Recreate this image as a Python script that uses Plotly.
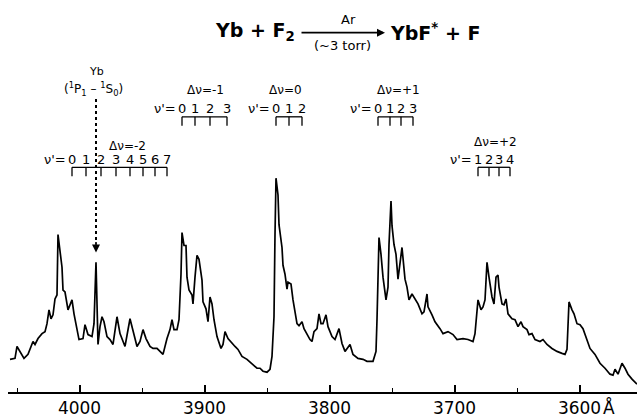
import plotly.graph_objects as go

# ---------------- data (wavelength in Angstrom, relative intensity) ----------------
wavelength = [
    4055.6, 4051.6, 4050.0, 4047.6, 4044.4, 4041.2, 4038.0, 4037.2, 4035.6, 4033.2,
    4030.0, 4027.6, 4026.0, 4024.4, 4022.8, 4021.2, 4019.6, 4018.0, 4017.2, 4015.6,
    4014.0, 4013.2, 4011.6, 4009.2, 4006.0, 4004.4, 4002.0, 4000.4, 3997.2, 3995.6,
    3993.2, 3990.0, 3988.4, 3986.8, 3985.2, 3983.6, 3982.0, 3980.4, 3978.0, 3975.6,
    3973.2, 3970.0, 3967.6, 3963.6, 3959.6, 3957.2, 3954.0, 3951.6, 3949.2, 3946.8,
    3943.6, 3941.2, 3938.0, 3935.6, 3933.2, 3930.0, 3927.6, 3926.0, 3924.4, 3922.0,
    3920.4, 3918.8, 3918.0, 3916.4, 3914.8, 3914.0, 3912.4, 3910.0, 3909.2, 3907.6,
    3906.0, 3904.4, 3902.0, 3901.2, 3898.8, 3897.2, 3895.6, 3894.0, 3892.4, 3890.0,
    3886.8, 3885.2, 3883.6, 3881.2, 3878.0, 3875.6, 3873.2, 3870.0, 3866.0, 3862.0,
    3858.0, 3855.6, 3853.2, 3850.0, 3847.6, 3846.0, 3844.4, 3843.6, 3842.8, 3841.2,
    3840.4, 3838.0, 3837.2, 3835.6, 3834.0, 3833.2, 3830.8, 3829.2, 3826.0, 3824.4,
    3822.0, 3820.4, 3818.0, 3815.6, 3814.0, 3812.4, 3810.0, 3808.4, 3806.8, 3805.2,
    3802.8, 3801.2, 3798.0, 3795.6, 3792.4, 3790.0, 3787.6, 3783.6, 3781.2, 3777.2,
    3773.2, 3770.0, 3765.2, 3762.8, 3762.0, 3760.4, 3758.8, 3757.2, 3754.8, 3753.2,
    3752.4, 3750.8, 3750.0, 3748.4, 3746.8, 3745.2, 3742.0, 3741.2, 3739.6, 3738.0,
    3736.4, 3734.0, 3731.6, 3729.2, 3726.0, 3724.4, 3722.0, 3721.2, 3718.0, 3715.6,
    3711.6, 3709.2, 3705.2, 3701.2, 3698.0, 3693.2, 3689.2, 3685.2, 3683.6, 3681.2,
    3678.8, 3677.2, 3675.6, 3674.0, 3672.4, 3670.0, 3668.4, 3666.8, 3665.2, 3664.4,
    3662.0, 3660.4, 3658.8, 3657.2, 3654.0, 3651.6, 3649.2, 3646.8, 3645.2, 3642.0,
    3640.4, 3638.0, 3635.6, 3631.6, 3629.2, 3626.0, 3622.0, 3618.0, 3614.0, 3611.6,
    3610.0, 3608.4, 3606.0, 3604.4, 3602.0, 3599.6, 3597.2, 3594.0, 3591.6, 3587.6,
    3583.6, 3579.6, 3575.6, 3573.2, 3571.6, 3569.2, 3566.0, 3563.6, 3561.2, 3558.0,
    3554.0,
]
intensity = [
    33, 34, 46, 41, 34, 38, 48, 51, 48, 54,
    59, 61, 69, 83, 74, 78, 94, 98, 159, 139,
    126, 103, 101, 83, 93, 79, 63, 53, 54, 68,
    58, 56, 69, 131, 48, 66, 76, 71, 56, 53,
    48, 76, 59, 46, 74, 63, 46, 51, 63, 54,
    46, 44, 44, 41, 38, 54, 63, 73, 63, 63,
    73, 119, 161, 148, 148, 116, 103, 98, 89, 116,
    138, 134, 113, 91, 84, 71, 96, 89, 73, 56,
    44, 48, 61, 54, 49, 46, 43, 36, 33, 28,
    24, 24, 21, 20, 23, 36, 76, 159, 216, 199,
    169, 146, 128, 119, 104, 111, 109, 93, 69, 67,
    71, 64, 58, 53, 51, 61, 64, 79, 69, 69,
    78, 66, 56, 53, 64, 49, 41, 48, 38, 34,
    33, 31, 31, 41, 73, 156, 139, 116, 93, 106,
    149, 193, 168, 149, 139, 114, 146, 133, 114, 106,
    93, 99, 94, 89, 79, 81, 99, 86, 78, 71,
    64, 59, 61, 58, 53, 54, 53, 51, 59, 93,
    83, 86, 93, 131, 116, 96, 89, 116, 118, 106,
    89, 88, 94, 79, 74, 73, 66, 71, 66, 63,
    58, 59, 53, 51, 53, 48, 44, 41, 39, 38,
    43, 91, 83, 79, 69, 68, 64, 53, 44, 38,
    29, 24, 18, 17, 23, 18, 29, 24, 18, 13,
    8,
]

tick_values = [4000, 3900, 3800, 3700, 3600]
tick_labels = ["4000", "3900", "3800", "3700", "3600"]

# band-head combs (wavelengths of v' band heads)
band_names = ["\u0394\u03bd=-2", "\u0394\u03bd=-1", "\u0394\u03bd=0", "\u0394\u03bd=+1", "\u0394\u03bd=+2"]
band_heads = [
    [4006.0, 3994.8, 3982.8, 3970.8, 3959.6, 3949.2, 3939.6, 3930.0],
    [3918.0, 3907.6, 3895.6, 3882.0],
    [3842.8, 3832.4, 3822.0],
    [3761.2, 3751.6, 3742.8, 3733.2],
    [3681.2, 3672.4, 3664.4, 3655.6],
]
band_vprime = [
    ["0", "1", "2", "3", "4", "5", "6", "7"],
    ["0", "1", "2", "3"],
    ["0", "1", "2"],
    ["0", "1", "2", "3"],
    ["1", "2", "3", "4"],
]
yb_line = 3986.8

# ---------------- styling / layout ----------------
comb_top = [227, 278, 278, 278, 227]
comb_len = 9
label_x = [3962.0, 3899.6, 3835.6, 3745.2, 3667.6]
label_y = [249, 305, 305, 305, 253]

fig = go.Figure()
fig.add_trace(go.Scatter(x=wavelength, y=intensity, mode="lines",
                         line=dict(color="black", width=1.7), hoverinfo="skip",
                         showlegend=False))

ann = []
shapes = []
font_small = dict(family="DejaVu Sans", size=12, color="black")

for name, heads, vp, top, lx, ly in zip(band_names, band_heads, band_vprime,
                                         comb_top, label_x, label_y):
    shapes.append(dict(type="line", xref="x", yref="y", x0=heads[0], x1=heads[-1],
                       y0=top, y1=top, line=dict(color="black", width=1.3)))
    for h, v in zip(heads, vp):
        shapes.append(dict(type="line", xref="x", yref="y", x0=h, x1=h,
                           y0=top, y1=top - comb_len, line=dict(color="black", width=1.3)))
        ann.append(dict(x=h, y=top + 8, xref="x", yref="y", text=v, showarrow=False,
                        font=dict(family="DejaVu Sans", size=13, color="black"),
                        xanchor="center", yanchor="middle"))
    ann.append(dict(x=heads[0], y=top + 8, xref="x", yref="y", text="\u03bd'=",
                    showarrow=False, font=dict(family="DejaVu Sans", size=13, color="black"),
                    xanchor="right", yanchor="middle", xshift=-4))
    ann.append(dict(x=lx, y=ly, xref="x", yref="y", text=name, showarrow=False,
                    font=font_small, xanchor="center", yanchor="middle"))

# Yb atomic line marker
shapes.append(dict(type="line", xref="x", yref="y", x0=yb_line, x1=yb_line, y0=296, y1=150,
                   line=dict(color="black", width=2, dash="3px,3px")))
ann.append(dict(x=yb_line, y=141, xref="x", yref="y", ax=0, ay=-12, text="",
                showarrow=True, arrowhead=2, arrowsize=1, arrowwidth=1.6, arrowcolor="black"))
ann.append(dict(x=yb_line, y=324, xref="x", yref="y", text="Yb", showarrow=False,
                font=dict(family="DejaVu Sans", size=11, color="black")))
ann.append(dict(x=yb_line + 2.4, y=306, xref="x", yref="y",
                text="(<sup>1</sup>P<sub>1</sub> \u2013 <sup>1</sup>S<sub>0</sub>)",
                showarrow=False, font=dict(family="DejaVu Sans", size=12, color="black")))

# reaction title
title_font = dict(family="DejaVu Sans", size=19, color="black")
ann.append(dict(x=3826.0, y=364, xref="x", yref="y", text="<b>Yb + F<sub>2</sub></b>",
                showarrow=False, font=title_font, xanchor="right", yanchor="middle"))
ann.append(dict(x=3753.2, y=364, xref="x", yref="y", text="<b>YbF<sup>*</sup> + F</b>",
                showarrow=False, font=title_font, xanchor="left", yanchor="middle"))
ann.append(dict(x=3755.6, y=363, ax=3823.6, ay=363, xref="x", yref="y", axref="x", ayref="y",
                text="", showarrow=True, arrowhead=2, arrowsize=1, arrowwidth=1.6,
                arrowcolor="black"))
ann.append(dict(x=3785.2, y=376, xref="x", yref="y", text="Ar", showarrow=False,
                font=dict(family="DejaVu Sans", size=13, color="black")))
ann.append(dict(x=3790.0, y=350, xref="x", yref="y", text="(~3 torr)", showarrow=False,
                font=dict(family="DejaVu Sans", size=13, color="black")))

# Angstrom sign after 3600
ann.append(dict(x=3600, y=0, xref="x", yref="paper", text="Å", showarrow=False,
                font=dict(family="DejaVu Sans", size=17, color="black"),
                xanchor="left", yanchor="top", xshift=21, yshift=-3))

fig.update_layout(
    width=637, height=418,
    margin=dict(l=8, r=0, t=0, b=22),
    paper_bgcolor="white", plot_bgcolor="white",
    annotations=ann, shapes=shapes,
    xaxis=dict(range=[4057.2, 3554.0], tickvals=tick_values, ticktext=tick_labels,
               ticks="inside", ticklen=7, tickwidth=1.5, tickcolor="black",
               minor=dict(dtick=50, ticks="inside", ticklen=4, tickwidth=1.3, tickcolor="black"),
               showline=True, linecolor="black", linewidth=2, showgrid=False,
               zeroline=False, tickfont=dict(family="DejaVu Sans", size=17, color="black")),
    yaxis=dict(range=[0, 396], visible=False),
)

fig.write_html("out.html", config={"displayModeBar": False},
               post_script="document.body.style.margin='0';document.body.style.padding='0';"
                           "document.documentElement.style.overflow='hidden';")
